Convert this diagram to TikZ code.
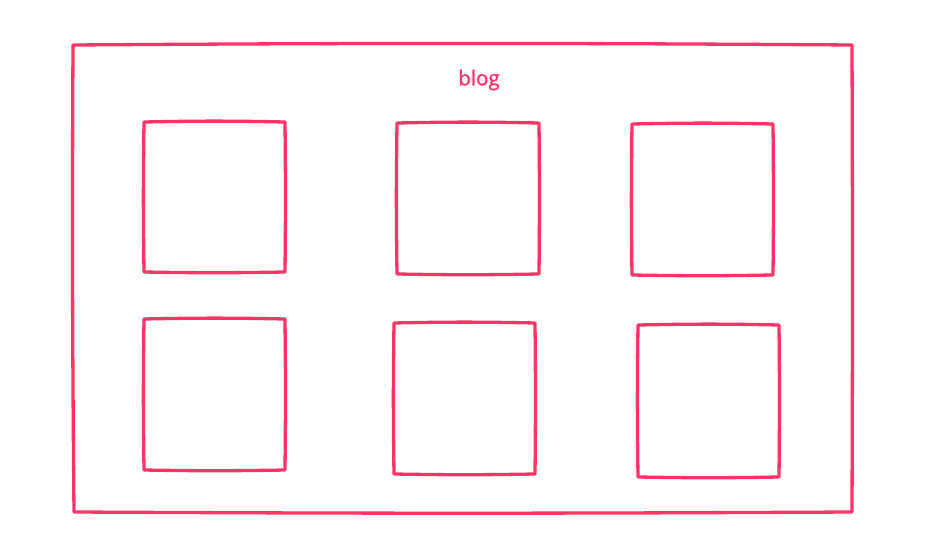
\documentclass[tikz,border=0pt]{standalone}
\usepackage{fontspec}
\setmainfont{Liberation Sans}
\newfontfamily\labelfont[FakeBold=1.2]{Open Sans}
\definecolor{sketchpink}{HTML}{FF3366}
\tikzset{
  sketch/.style={draw=sketchpink, line width=3.3pt, line join=round, line cap=round},
  labeltext/.style={text=sketchpink, font=\labelfont\fontsize{20.5}{24}\selectfont, inner sep=0pt}
}
\newcommand{\wobblebox}[4]{%
  \draw[sketch] (#1,#2) to[bend left=1.2] (#3,#2) to[bend left=0.6] (#3,#4)
    to[bend left=1] (#1,#4) to[bend left=0.8] cycle;}
\begin{document}
\begin{tikzpicture}[x=1pt,y=-1pt]
  \useasboundingbox (0,0) rectangle (926,556);
  \draw[sketch] (73,45) to[bend left=0.4] (852,45) to[bend left=0.2] (852,512)
    to[bend left=0.3] (74,512) to[bend left=0.4] cycle;
  \node[labeltext] (title) at (479,80) {blog};
  \wobblebox{144}{122}{285}{272}
  \wobblebox{397}{123}{539}{274}
  \wobblebox{632}{124}{773}{275}
  \wobblebox{144}{319}{285}{470}
  \wobblebox{394}{323}{535}{474}
  \wobblebox{638}{325}{779}{477}
\end{tikzpicture}
\end{document}
